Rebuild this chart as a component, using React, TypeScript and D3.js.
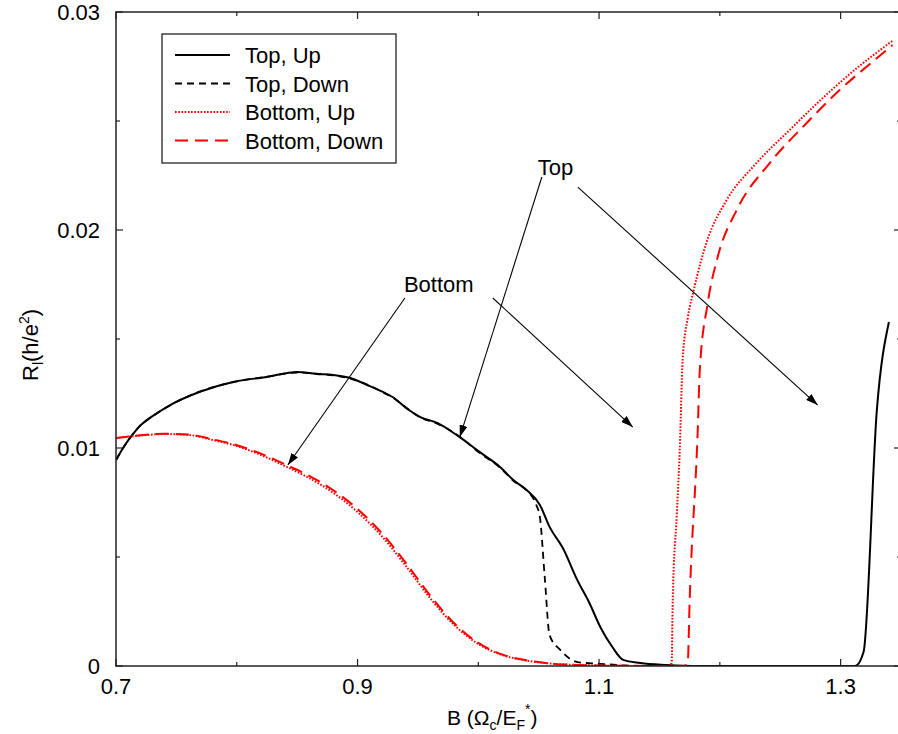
import React from "react";
import * as d3 from "d3";

// ---- data ----
const topUpB = [0.700,0.7074,0.714,0.7207,0.7281,0.742,0.770,0.797,0.825,0.850,0.866,0.880,0.894,0.908,0.921,0.929,0.941,0.952,0.966,0.982,1.001,1.018,1.029,1.040,1.051,1.059,1.070,1.082,1.092,1.101,1.111,1.120,1.134,1.156,1.183,1.250,1.312,1.319,1.330,1.340];
const topUpR = [0.00945,0.01014,0.01064,0.01106,0.01138,0.01188,0.01259,0.01303,0.01326,0.01349,0.01340,0.01335,0.01321,0.01289,0.01257,0.01234,0.01180,0.01142,0.01115,0.01060,0.00982,0.00913,0.00853,0.00807,0.00739,0.00638,0.00541,0.00394,0.00289,0.00179,0.00087,0.00028,0.00014,0.00005,0,0,0,0.00064,0.01174,0.01578];

const topDownB = [0.700,0.7074,0.714,0.7207,0.7281,0.742,0.770,0.797,0.825,0.850,0.866,0.880,0.894,0.908,0.921,0.929,0.941,0.952,0.966,0.982,1.001,1.018,1.029,1.040,1.048,1.051,1.055,1.059,1.068,1.082,1.101,1.134,1.200,1.312];
const topDownR = [0.00945,0.01013,0.01063,0.01107,0.01137,0.01187,0.01260,0.01302,0.01327,0.01346,0.01341,0.01333,0.01318,0.01291,0.01255,0.01232,0.01182,0.01140,0.01112,0.01062,0.00978,0.00910,0.00850,0.00805,0.00739,0.00683,0.00408,0.00142,0.00073,0.00018,0.00010,0,0,0];

const bottomUpB = [0.70,0.72,0.74,0.76,0.78,0.80,0.82,0.84,0.86,0.88,0.90,0.92,0.94,0.96,0.98,1.00,1.02,1.04,1.06,1.08,1.10,1.157,1.1601,1.1610,1.1643,1.1668,1.1692,1.1734,1.1784,1.1891,1.2057,1.2288,1.2578,1.2851,1.3133,1.343];
const bottomUpR = [0.01046,0.01057,0.01064,0.01060,0.01037,0.01009,0.00968,0.00917,0.00862,0.00794,0.00706,0.00596,0.00459,0.00312,0.00188,0.00101,0.00050,0.00025,0.00011,0.00005,0.00002,0,0.00014,0.00303,0.00690,0.00990,0.01404,0.01596,0.01725,0.01945,0.02138,0.02298,0.02459,0.02605,0.02742,0.02868];

const bottomDownB = [0.70,0.72,0.74,0.76,0.78,0.80,0.82,0.84,0.86,0.88,0.90,0.92,0.94,0.96,0.98,1.00,1.02,1.04,1.06,1.08,1.10,1.170,1.1734,1.1750,1.1817,1.1834,1.1900,1.1982,1.2140,1.2413,1.2719,1.2992,1.3265,1.343];
const bottomDownR = [0.01046,0.01058,0.01065,0.01062,0.01040,0.01013,0.00974,0.00925,0.00872,0.00806,0.00720,0.00610,0.00473,0.00324,0.00196,0.00106,0.00052,0.00026,0.00011,0.00005,0.00002,0,0.00014,0.00300,0.01083,0.01358,0.01665,0.01876,0.02092,0.02307,0.02491,0.02642,0.02772,0.02848];

const xMajorTicks = [0.7, 0.9, 1.1, 1.3];
const xMinorTicks = [0.8, 1.0, 1.2];
const yMajorTicks = [0, 0.01, 0.02, 0.03];
const yMinorTicks = [0.005, 0.015, 0.025];
const xTickLabels = ["0.7", "0.9", "1.1", "1.3"];
const yTickLabels = ["0", "0.01", "0.02", "0.03"];

const legendLabels = ["Top, Up", "Top, Down", "Bottom, Up", "Bottom, Down"];

// annotations (data coordinates)
const annoLabels = ["Top", "Bottom"];
const annoLabelB = [1.0493, 0.9384];
const annoLabelR = [0.02252, 0.01716];
const arrowFromB = [1.0526, 1.0824, 0.9392, 1.012];
const arrowFromR = [0.02243, 0.02197, 0.01688, 0.01688];
const arrowToB = [0.9847, 1.281, 0.8423, 1.1279];
const arrowToR = [0.0105, 0.01197, 0.00922, 0.01096];

const W = 898, H = 734;
const left = 116, right = 901, top = 12, bottom = 666;
const FONT = "'Liberation Sans', Arial, Helvetica, sans-serif";

export default function App() {
  const x = d3.scaleLinear().domain([0.7, 1.35]).range([left, right]);
  const y = d3.scaleLinear().domain([0, 0.03]).range([bottom, top]);

  const mk = (bs: number[], rs: number[]) =>
    d3.line<number>().x((_, i) => x(bs[i])).y((_, i) => y(rs[i])).curve(d3.curveMonotoneX)(bs) || "";

  const series = [
    { d: mk(topUpB, topUpR), stroke: "#000", dash: "none", w: 2 },
    { d: mk(topDownB, topDownR), stroke: "#000", dash: "7,5", w: 1.8 },
    { d: mk(bottomUpB, bottomUpR), stroke: "#ff0000", dash: "1.6,1.6", w: 2 },
    { d: mk(bottomDownB, bottomDownR), stroke: "#ff0000", dash: "13,7", w: 2 },
  ];

  const axisColor = "#222";

  return (
    <svg width={W} height={H} style={{ position: "absolute", left: 0, top: 0, background: "#fff" }} fontFamily={FONT}>
      <defs>
        <marker id="ah" viewBox="0 0 12 8" refX="12" refY="4" markerWidth="12" markerHeight="8" markerUnits="userSpaceOnUse" orient="auto">
          <path d="M0,0 L12,4 L0,8 Z" fill="#000" />
        </marker>
        <clipPath id="plot">
          <rect x={left} y={top - 2} width={right - left} height={bottom - top + 2} />
        </clipPath>
      </defs>

      {/* series */}
      <g clipPath="url(#plot)" fill="none" strokeLinejoin="round">
        {series.map((s, i) => (
          <path key={i} d={s.d} stroke={s.stroke} strokeWidth={s.w} strokeDasharray={s.dash} />
        ))}
      </g>

      {/* frame */}
      <rect x={left} y={top} width={right - left} height={bottom - top} fill="none" stroke={axisColor} strokeWidth={1.5} />

      {/* ticks */}
      <g stroke={axisColor} strokeWidth={1.2}>
        {xMajorTicks.map((t) => (
          <g key={"xM" + t}>
            <line x1={x(t)} x2={x(t)} y1={bottom} y2={bottom - 7} />
            <line x1={x(t)} x2={x(t)} y1={top} y2={top + 7} />
          </g>
        ))}
        {xMinorTicks.map((t) => (
          <g key={"xm" + t}>
            <line x1={x(t)} x2={x(t)} y1={bottom} y2={bottom - 4} />
            <line x1={x(t)} x2={x(t)} y1={top} y2={top + 4} />
          </g>
        ))}
        {yMajorTicks.map((t) => (
          <g key={"yM" + t}>
            <line x1={left} x2={left + 7} y1={y(t)} y2={y(t)} />
            <line x1={right} x2={right - 7} y1={y(t)} y2={y(t)} />
          </g>
        ))}
        {yMinorTicks.map((t) => (
          <g key={"ym" + t}>
            <line x1={left} x2={left + 4} y1={y(t)} y2={y(t)} />
            <line x1={right} x2={right - 4} y1={y(t)} y2={y(t)} />
          </g>
        ))}
      </g>

      {/* tick labels */}
      <g fontSize={22} fill="#000">
        {xMajorTicks.map((t, i) => (
          <text key={"xl" + t} x={x(t)} y={bottom + 28} textAnchor="middle">{xTickLabels[i]}</text>
        ))}
        {yMajorTicks.map((t, i) => (
          <text key={"yl" + t} x={left - 16} y={y(t) + 8} textAnchor="end">{yTickLabels[i]}</text>
        ))}
      </g>

      {/* axis titles */}
      <text x={447} y={725} fontSize={21} fill="#000">
        B (Ω<tspan fontSize={14} dy={5}>c</tspan><tspan dy={-5}>/E</tspan><tspan fontSize={14} dy={5}>F</tspan><tspan fontSize={14} dy={-16}>*</tspan><tspan dy={11}>)</tspan>
      </text>
      <text transform="translate(38,381) rotate(-90)" fontSize={22} fill="#000">
        R<tspan fontSize={14} dy={5}>l</tspan><tspan dy={-5}>(h/e</tspan><tspan fontSize={14} dy={-9}>2</tspan><tspan dy={9}>)</tspan>
      </text>

      {/* annotations */}
      <g stroke="#000" strokeWidth={1.1}>
        {arrowFromB.map((b, i) => (
          <line key={"ar" + i} x1={x(b)} y1={y(arrowFromR[i])} x2={x(arrowToB[i])} y2={y(arrowToR[i])} markerEnd="url(#ah)" />
        ))}
      </g>
      <g fontSize={22} fill="#000">
        {annoLabels.map((l, i) => (
          <text key={l} x={x(annoLabelB[i])} y={y(annoLabelR[i])}>{l}</text>
        ))}
      </g>

      {/* legend */}
      <rect x={162} y={34} width={234} height={129} fill="#fff" stroke={axisColor} strokeWidth={1.3} />
      {legendLabels.map((l, i) => {
        const ly = 55 + i * 28.5;
        const s = series[i];
        return (
          <g key={l}>
            <line x1={175} x2={230} y1={ly} y2={ly} stroke={s.stroke} strokeWidth={s.w} strokeDasharray={s.dash} />
            <text x={245} y={ly + 8} fontSize={22} fill="#000">{l}</text>
          </g>
        );
      })}
    </svg>
  );
}
